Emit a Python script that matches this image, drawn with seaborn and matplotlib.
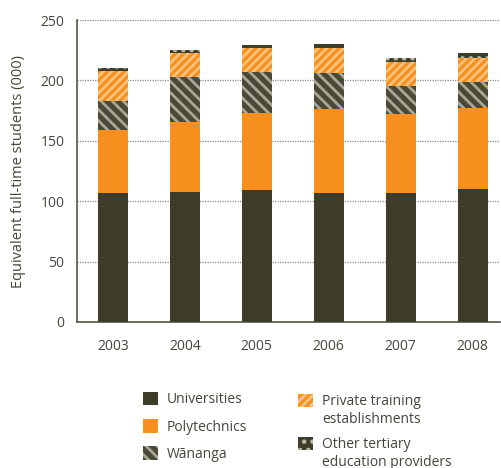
import numpy as np
import pandas as pd
import matplotlib
matplotlib.use('Agg')
import matplotlib.pyplot as plt
import seaborn as sns
from matplotlib.patches import Patch

# values (thousands of EFTS)
years = ['2003', '2004', '2005', '2006', '2007', '2008']
universities = [107.0, 107.7, 109.4, 107.0, 107.0, 110.0]
polytechnics = [52.3, 58.3, 63.6, 69.0, 65.6, 67.0]
wananga = [23.7, 37.0, 34.0, 30.0, 23.0, 22.0]
private_te = [25.0, 20.0, 20.0, 21.0, 20.0, 19.7]
other_te = [2.4, 2.4, 2.5, 3.3, 3.3, 4.2]

dark = '#3e3d29'
orange = '#f7901e'
txt = '#45453a'

sns.set_theme(style='white')
plt.rcParams['font.family'] = ['Open Sans', 'DejaVu Sans']
plt.rcParams['hatch.linewidth'] = 2.0

df = pd.DataFrame({'year': years, 'Universities': universities, 'Polytechnics': polytechnics,
                   'Wānanga': wananga, 'Private': private_te, 'Other': other_te})
layers = ['Universities', 'Polytechnics', 'Wānanga', 'Private', 'Other']
cum = df[layers].cumsum(axis=1)

styles = {
    'Universities': dict(color=dark, hatch=None, edgecolor=dark),
    'Polytechnics': dict(color=orange, hatch=None, edgecolor=orange),
    'Wānanga': dict(color='#4a4935', hatch='\\\\\\', edgecolor='#a9a898'),
    'Private': dict(color=orange, hatch='////', edgecolor='#fbc27e'),
    'Other': dict(color=dark, hatch='..', edgecolor='#b8b8a8'),
}

fig = plt.figure(figsize=(5.02, 4.68), dpi=100)
ax = fig.add_axes([0.153, 0.312, 0.843, 0.645])

# draw from the top layer down so each cumulative bar hides the one behind
for name in reversed(layers):
    st = styles[name]
    sns.barplot(x=df['year'], y=cum[name], ax=ax, color=st['color'], hatch=st['hatch'],
                edgecolor=st['edgecolor'], linewidth=0, width=0.42, saturation=1, zorder=3)

ax.set_ylim(0, 250)
ax.set_yticks([0, 50, 100, 150, 200, 250])
ax.set_xlim(-0.5, 5.38)
ax.set_xticks(np.arange(-0.5, 5.5, 1), minor=True)
ax.tick_params(axis='x', which='minor', length=8, width=1.2, color='#55554a', direction='out')
ax.tick_params(axis='x', which='major', length=0, pad=12, labelsize=10, labelcolor=txt)
ax.tick_params(axis='y', length=0, pad=9, labelsize=10, labelcolor=txt)
ax.yaxis.grid(True, linestyle=(0, (1, 1)), color='#8a8a80', linewidth=0.9, zorder=0)
ax.set_axisbelow(True)
ax.set_xlabel('')
ax.set_ylabel('Equivalent full-time students (000)', fontsize=10.5, color=txt)
ax.yaxis.set_label_coords(-0.12, 0.5)
for s in ['top', 'right']:
    ax.spines[s].set_visible(False)
for s in ['left', 'bottom']:
    ax.spines[s].set_color('#55554a')
    ax.spines[s].set_linewidth(1.2)

handles = [Patch(facecolor=styles[n]['color'], hatch=styles[n]['hatch'],
                 edgecolor=styles[n]['edgecolor'], linewidth=0) for n in layers]
leg_kw = dict(frameon=False, loc='upper left', fontsize=10, labelcolor=txt,
              handlelength=1.1, handleheight=1.1, handletextpad=0.65)

# first column
fig.legend(handles[:3], ['Universities', 'Polytechnics', 'Wānanga'],
           bbox_to_anchor=(0.259, 0.189), labelspacing=0.85, **leg_kw)
# second column: handles sit on the first line of each two-line label
first_lines = ['Private training', 'Other tertiary']
second_lines = ['establishments', 'education providers']
leg2 = fig.legend(handles[3:], first_lines, bbox_to_anchor=(0.568, 0.185),
                  labelspacing=2.0, **leg_kw)
fig.canvas.draw()
W, H = fig.bbox.width, fig.bbox.height
for t, extra in zip(leg2.get_texts(), second_lines):
    bb = t.get_window_extent()
    fig.text(bb.x0 / W, (bb.y0 - 18) / H, extra, fontsize=10, color=txt, va='bottom', ha='left')

fig.savefig('out.png', dpi=100)
